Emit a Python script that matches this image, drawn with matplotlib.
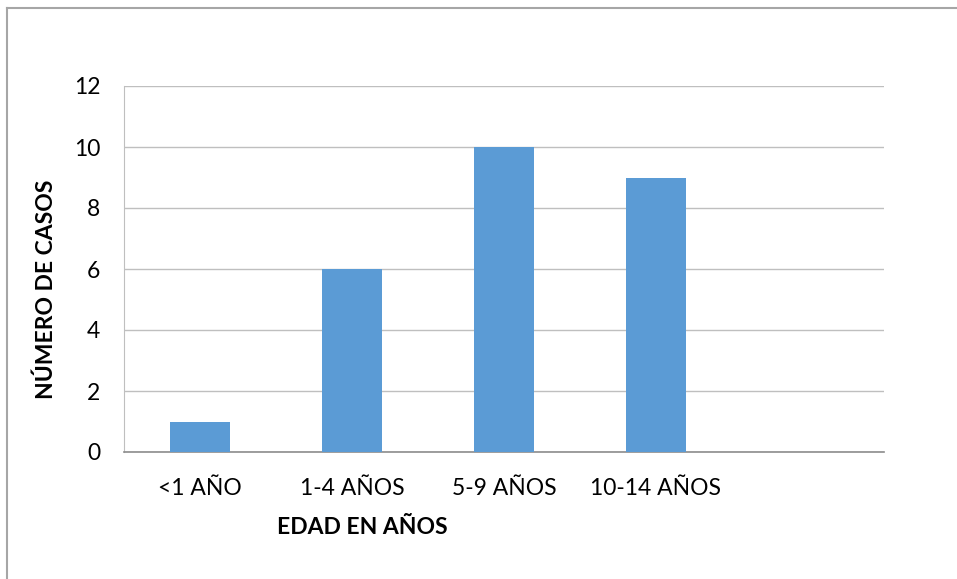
import matplotlib
matplotlib.use("Agg")
import matplotlib.pyplot as plt
from matplotlib.lines import Line2D

categories = ["<1 AÑO", "1-4 AÑOS", "5-9 AÑOS", "10-14 AÑOS"]
cases = [1, 6, 10, 9]
y_ticks = [0, 2, 4, 6, 8, 10, 12]

plt.rcParams['font.family'] = ['Lato', 'DejaVu Sans']

W, H = 957, 579
fig = plt.figure(figsize=(W / 100, H / 100), dpi=100)
fig.patch.set_facecolor("white")

# plot area in pixel terms
x0, x1, y_top, y_bot = 124, 884, 86, 452
ax = fig.add_axes([x0 / W, (H - y_bot) / H, (x1 - x0) / W, (y_bot - y_top) / H])

x = list(range(len(categories)))
ax.bar(x, cases, width=0.4, color="#5B9BD5", zorder=3)

ax.set_xlim(-0.5, 4.5)
ax.set_ylim(0, 12)
ax.set_yticks(y_ticks)
ax.set_yticklabels([str(v) for v in y_ticks], fontsize=16.5)
ax.set_xticks(x)
ax.set_xticklabels(categories, fontsize=16.5)
ax.tick_params(axis="both", length=0)
ax.tick_params(axis="y", pad=17)
ax.tick_params(axis="x", pad=19)

ax.yaxis.grid(True, color="#BFBFBF", linewidth=1.0, zorder=0)
for side in ("top", "right"):
    ax.spines[side].set_visible(False)
ax.spines["left"].set_color("#BFBFBF")
ax.spines["bottom"].set_color("#8C8C8C")
ax.spines["bottom"].set_linewidth(1.2)

fig.text(362 / W, 1 - 528 / H, "EDAD EN AÑOS", fontsize=16.5, fontweight="bold",
         ha="center", va="center")
fig.text(46 / W, 1 - 289 / H, "NÚMERO DE CASOS", fontsize=16.5, fontweight="bold",
         ha="center", va="center", rotation=90)

# outer chart frame (top and left edges)
fig.add_artist(Line2D([7.5 / W, 7.5 / W], [0, 1 - 7.5 / H], color="#A6A6A6", linewidth=1.5,
                      transform=fig.transFigure))
fig.add_artist(Line2D([7.5 / W, 1], [1 - 7.5 / H, 1 - 7.5 / H], color="#A6A6A6", linewidth=1.5,
                      transform=fig.transFigure))

fig.savefig("out.png", dpi=100)
